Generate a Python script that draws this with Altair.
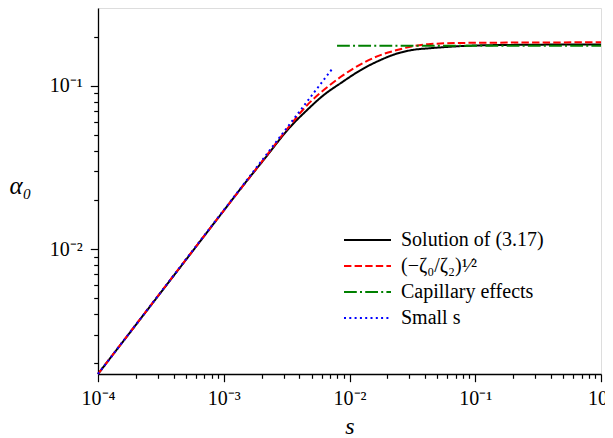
import altair as alt
import pandas as pd

FONT = "Liberation Serif"

# Solution of (3.17)
s_black = [1e-4, 3.76e-4, 1.0e-3, 1.355e-3, 2.074e-3, 3.39e-3, 4.60e-3, 6.24e-3,
           8.48e-3, 1.298e-2, 1.762e-2, 2.39e-2, 3.25e-2, 4.41e-2,
           6.5e-2, 9.17e-2, 0.2, 1.0]
a_black = [0.00172, 0.00646, 0.0172, 0.0233, 0.0351, 0.0561, 0.0710, 0.0877,
           0.1035, 0.1278, 0.1436, 0.1574, 0.1660, 0.1697,
           0.1735, 0.1758, 0.1778, 0.1790]

# (-zeta0/zeta2)^(1/2)
s_red = [1e-4, 1.0e-3, 2.074e-3, 3.39e-3, 4.60e-3, 6.24e-3, 8.48e-3, 1.298e-2,
         1.762e-2, 2.39e-2, 3.25e-2, 4.41e-2, 9.17e-2, 1.0]
a_red = [0.00172, 0.0172, 0.0354, 0.0576, 0.0760, 0.0941, 0.1130, 0.1385,
         0.1540, 0.1654, 0.1750, 0.1800, 0.1830, 0.1844]

# Capillary effects
s_green = [7.96e-3, 1.0]
a_green = [0.1758, 0.1758]

# Small s
s_blue = [1e-4, 7.34e-3]
a_blue = [0.00172, 0.1278]

names = ["Solution of (3.17)", "(−ζ₀/ζ₂)¹⁄²", "Capillary effects", "Small s"]
colors = ["#000000", "#ff0000", "#008000", "#0000ff"]
dashes = [[1, 0], [7.4, 3.2], [12.8, 3.2, 2, 3.2], [2, 3.3]]

rows = []
for name, xs, ys in zip(names, [s_black, s_red, s_green, s_blue],
                        [a_black, a_red, a_green, a_blue]):
    for x, y in zip(xs, ys):
        rows.append({"s": x, "alpha": y, "series": name})
df = pd.DataFrame(rows)

x_ticks = [k * 10.0 ** d for d in range(-4, 0) for k in range(1, 10)] + [1.0]
y_ticks = [k * 10.0 ** d for d in range(-3, 0) for k in range(1, 10)]
y_ticks = [v for v in y_ticks if 0.00172 <= v <= 0.299]

major = "abs(log(datum.value)/LN10 - round(log(datum.value)/LN10)) < 1e-6"
lab = ("(" + major + ") ? '10' + replace(replace(replace(replace(replace(replace("
       "toString(round(log(datum.value)/LN10)), '-', '⁻'), '0', '⁰'), '1', '¹'), "
       "'2', '²'), '3', '³'), '4', '⁴') : ''")
tick_size = {"condition": {"test": major, "value": 7.7}, "value": 4.3}

common = dict(labelExpr=lab, tickSize=tick_size, tickWidth=1.2, tickColor="black",
              domainColor="black", domainWidth=1.3, labelFont=FONT, labelFontSize=20,
              labelColor="black", grid=False, titleFont=FONT,
              titleFontStyle="italic", titleFontWeight="normal", titleColor="black",
              labelOverlap=False, labelFlush=False)

legend = alt.Legend(orient="none", legendX=245, legendY=222,
                    title=None, labelFont=FONT, labelFontSize=20,
                    labelColor="black", symbolSize=2209,
                    symbolStrokeWidth=2, labelOffset=9, clipHeight=20,
                    rowPadding=6, padding=0, symbolType="stroke")

chart = alt.Chart(df).mark_line(strokeWidth=2, interpolate="monotone").encode(
    x=alt.X("s:Q", scale=alt.Scale(type="log", domain=[1e-4, 1.0], nice=False),
            axis=alt.Axis(values=x_ticks, title="s", labelPadding=7,
                          titleFontSize=24, titleY=59, titleBaseline="alphabetic",
                          **common)),
    y=alt.Y("alpha:Q", scale=alt.Scale(type="log", domain=[0.00172, 0.299], nice=False),
            axis=alt.Axis(values=y_ticks, title="α₀", labelPadding=8,
                          titleFontSize=25, titleAngle=0, titleX=-78, titleY=177,
                          titleAlign="center", titleBaseline="middle", **common)),
    color=alt.Color("series:N", scale=alt.Scale(domain=names, range=colors),
                    legend=legend),
    strokeDash=alt.StrokeDash("series:N", scale=alt.Scale(domain=names, range=dashes),
                              legend=legend),
).properties(
    width=503, height=366,
    autosize=alt.AutoSizeParams(type="none"),
    padding={"left": 90, "top": 0, "right": 4, "bottom": 64},
).configure_view(stroke="black", strokeWidth=1.3).configure(background="white")

chart.save("out.html", embed_options={"renderer": "svg", "actions": False})
